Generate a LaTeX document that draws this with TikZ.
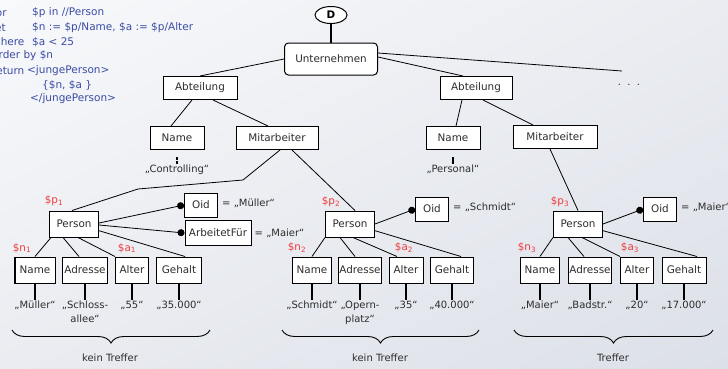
\documentclass[tikz,border=0pt]{standalone}
\usepackage{fontspec}
\setmainfont{DejaVu Sans}
\usetikzlibrary{positioning,shapes.geometric,arrows.meta,decorations.pathreplacing,shadings}

\definecolor{codeblue}{RGB}{58,76,165}
\definecolor{varred}{RGB}{238,60,60}
\definecolor{textgrey}{RGB}{45,45,45}
\definecolor{bgtop}{RGB}{248,249,251}
\definecolor{bgmid}{RGB}{234,236,241}
\definecolor{bgbottom}{RGB}{220,224,232}

\newcommand{\boxfont}{\fontsize{10.4bp}{12bp}\selectfont}
\newcommand{\valfont}{\fontsize{10bp}{13.5bp}\selectfont}
\newcommand{\codefont}{\fontsize{10.5bp}{12bp}\selectfont}

\begin{document}
\begin{tikzpicture}[
    x = 1bp,
    y = -1bp,
    box/.style={
        draw,
        fill = white,
        text = textgrey,
        font = \boxfont,
        line width = 1bp,
        inner sep = 1bp,
        minimum height = 23bp,
        },
    kid/.style={
        box,
        minimum height = 26bp,
        },
    root/.style={
        ellipse,
        draw,
        fill = white,
        line width = 1bp,
        inner sep = 0pt,
        minimum width = 32bp,
        minimum height = 17bp,
        font = \boxfont\bfseries,
        },
    value/.style={
        text = textgrey,
        font = \valfont,
        inner sep = 1bp,
        align = center,
        anchor = north,
        },
    note/.style={
        text = textgrey,
        font = \valfont,
        inner sep = 0pt,
        },
    var/.style={
        text = varred,
        font = \boxfont,
        inner sep = 0pt,
        },
    code/.style={
        text = codeblue,
        font = \codefont,
        inner sep = 0pt,
        anchor = west,
        },
    edge/.style={line width = 0.8bp},
    tick/.style={line width = 2bp},
    dot/.style={edge, -{Circle[length=7bp]}},
    curly/.style={
        decorate,
        decoration = {brace, mirror, amplitude = 13bp},
        line width = 0.9bp,
        },
]

\useasboundingbox (0,0) rectangle (728,368);
\shade[upper left=bgtop, upper right=bgmid, lower left=bgmid, lower right=bgbottom]
    (0,0) rectangle (728,368);

% query
\node[code] (k1) at (-8,13) {for};
\node[code] (c1) at (32,13) {\$p in //Person};
\node[code] (k2) at (-8,28) {let};
\node[code] (c2) at (32,28) {\$n := \$p/Name, \$a := \$p/Alter};
\node[code] (k3) at (-8,42) {where};
\node[code] (c3) at (32,42) {\$a < 25};
\node[code] (k4) at (-8,56) {order by \$n};
\node[code] (k5) at (-8,71) {return};
\node[code] (c4) at (27,71) {<jungePerson>};
\node[code] (c5) at (42,85) {\{\$n, \$a \}};
\node[code] (c6) at (30,99) {</jungePerson>};

% upper tree
\node[root] (doc) at (331,15) {D};
\node[box, rounded corners=4bp, minimum width=93bp, minimum height=32bp] (firm) at (331,59) {Unternehmen};
\node[box, minimum width=74bp] (deptl) at (200,88) {Abteilung};
\node[box, minimum width=72bp] (deptr) at (476,88) {Abteilung};
\node[box, minimum width=54bp] (namel) at (177,138) {Name};
\node[box, minimum width=82bp] (staffl) at (277,138) {Mitarbeiter};
\node[box, minimum width=54bp] (namer) at (453,138) {Name};
\node[box, minimum width=84bp] (staffr) at (555,137) {Mitarbeiter};
\node[note] (dots) at (629,85) {.\ \ .\ \ .};
\coordinate (more) at (622,71);
\node[value] (ctrl) at (177,164) {„Controlling“};
\node[value] (pers) at (453,164) {„Personal“};

\draw[tick] (doc) -- (firm);
\draw[edge] (firm.west) -- (deptl.north);
\draw[edge] ([yshift=2bp]firm.east) -- ([xshift=-13bp]deptr.north);
\draw[edge] ([yshift=6bp]firm.east) -- (more);
\draw[edge] ([xshift=-8bp]deptl.south) -- ([xshift=-6bp]namel.north);
\draw[edge] ([xshift=13bp]deptl.south) -- ([xshift=-9bp]staffl.north);
\draw[edge] ([xshift=-14bp]deptr.south) -- ([xshift=3bp]namer.north);
\draw[edge] ([xshift=7bp]deptr.south) -- ([xshift=-22bp]staffr.north);
\draw[tick, dash pattern=on 3bp off 1bp] ([yshift=-7bp]namel.south) -- (ctrl.north);
\draw[tick] ([yshift=-7bp]namer.south) -- (pers.north);

% first person
\node[kid, minimum width=49bp] (p1) at (74,224) {Person};
\node[box, minimum width=33bp, minimum height=24bp] (oid1) at (201,205) {Oid};
\node[box, minimum width=66bp, minimum height=25bp] (works1) at (218,233) {ArbeitetFür};
\node[note, right=4bp of oid1, yshift=2bp] (oidv1) {= „Müller“};
\node[note, right=3bp of works1] (worksv1) {= „Maier“};
\node[kid, minimum width=40bp] (n1) at (35,270) {Name};
\node[kid, minimum width=45bp] (d1) at (85,270) {Adresse};
\node[kid, minimum width=33bp] (a1) at (132,270) {Alter};
\node[kid, minimum width=45bp] (g1) at (179,270) {Gehalt};
\node[value] (vn1) at (35,300) {„Müller“};
\node[value] (vd1) at (85,300) {„Schloss-\\allee“};
\node[value] (va1) at (132,300) {„55“};
\node[value] (vg1) at (179,300) {„35.000“};
\node[var] (lp1) at (54,201) {\$p\textsubscript{1}};
\node[var] (ln1) at (22,248) {\$n\textsubscript{1}};
\node[var] (la1) at (127,248) {\$a\textsubscript{1}};
\coordinate (bend1) at (243,180);
\coordinate (bend2) at (138,189);

\draw[edge] ([xshift=3bp]staffl.south) -- (bend1) -- (bend2) -- ([xshift=-2bp]p1.north);
\draw[dot] ([yshift=1bp]p1.east) -- (oid1.west);
\draw[dot] ([yshift=-1bp]p1.east) -- (works1.west);
\draw[edge] ([xshift=-23bp]p1.south) -- (n1.north);
\draw[edge] ([xshift=-11bp]p1.south) -- ([xshift=-6bp]d1.north);
\draw[edge] ([xshift=4bp]p1.south) -- (a1.north west);
\draw[edge] (p1.-15) -- ([xshift=6bp]g1.north);
\foreach \k/\v in {n1/vn1, d1/vd1, a1/va1, g1/vg1}
    \draw[tick] (\k.south) -- (\v.north);
\draw[curly] (12,330) -- (210,330);
\node[note] (hit1) at (110,358) {kein Treffer};

% second person
\node[kid, minimum width=49bp] (p2) at (350,224) {Person};
\node[box, minimum width=33bp, minimum height=24bp] (oid2) at (432,209) {Oid};
\node[note, right=4bp of oid2, yshift=2bp] (oidv2) {= „Schmidt“};
\node[kid, minimum width=39bp] (n2) at (312,270) {Name};
\node[kid, minimum width=43bp] (d2) at (360,270) {Adresse};
\node[kid, minimum width=34bp] (a2) at (406,270) {Alter};
\node[kid, minimum width=43bp] (g2) at (452,270) {Gehalt};
\node[value] (vn2) at (312,300) {„Schmidt“};
\node[value] (vd2) at (360,300) {„Opern-\\platz“};
\node[value] (va2) at (406,300) {„35“};
\node[value] (vg2) at (452,300) {„40.000“};
\node[var] (lp2) at (331,202) {\$p\textsubscript{2}};
\node[var] (ln2) at (297,248) {\$n\textsubscript{2}};
\node[var] (la2) at (404,248) {\$a\textsubscript{2}};

\draw[edge] ([xshift=15bp]staffl.south) -- ([xshift=5bp]p2.north);
\draw[dot] (p2.east) -- (oid2.west);
\draw[edge] (p2.south west) -- (n2.north);
\draw[edge] ([xshift=-10bp]p2.south) -- ([xshift=-5bp]d2.north);
\draw[edge] ([xshift=3bp]p2.south) -- ([xshift=-9bp]a2.north);
\draw[edge] (p2.-15) -- ([xshift=9bp]g2.north);
\foreach \k/\v in {n2/vn2, d2/vd2, a2/va2, g2/vg2}
    \draw[tick] (\k.south) -- (\v.north);
\draw[curly] (282,330) -- (479,330);
\node[note] (hit2) at (380,358) {kein Treffer};

% third person
\node[kid, minimum width=49bp] (p3) at (578,224) {Person};
\node[box, minimum width=33bp, minimum height=24bp] (oid3) at (660,209) {Oid};
\node[note, right=4bp of oid3, yshift=2bp] (oidv3) {= „Maier“};
\node[kid, minimum width=39bp] (n3) at (540,270) {Name};
\node[kid, minimum width=43bp] (d3) at (590,270) {Adresse};
\node[kid, minimum width=33bp] (a3) at (637,270) {Alter};
\node[kid, minimum width=44bp] (g3) at (684,270) {Gehalt};
\node[value] (vn3) at (540,300) {„Maier“};
\node[value] (vd3) at (590,300) {„Badstr.“};
\node[value] (va3) at (637,300) {„20“};
\node[value] (vg3) at (684,300) {„17.000“};
\node[var] (lp3) at (560,202) {\$p\textsubscript{3}};
\node[var] (ln3) at (527,248) {\$n\textsubscript{3}};
\node[var] (la3) at (630,248) {\$a\textsubscript{3}};

\draw[edge] ([xshift=-5bp]staffr.south) -- (p3.north);
\draw[dot] (p3.east) -- (oid3.west);
\draw[edge] (p3.south west) -- (n3.north);
\draw[edge] ([xshift=-10bp]p3.south) -- ([xshift=-6bp]d3.north);
\draw[edge] ([xshift=4bp]p3.south) -- (a3.north west);
\draw[edge] (p3.-15) -- ([xshift=13bp]g3.north);
\foreach \k/\v in {n3/vn3, d3/vd3, a3/va3, g3/vg3}
    \draw[tick] (\k.south) -- (\v.north);
\draw[curly] (514,330) -- (713,330);
\node[note] (hit3) at (613,358) {Treffer};

\end{tikzpicture}
\end{document}
